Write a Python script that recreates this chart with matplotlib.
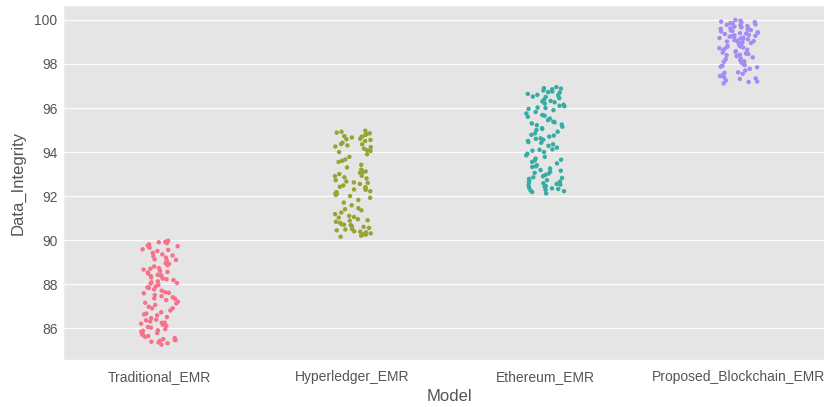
import numpy as np
import pandas as pd
import matplotlib
matplotlib.use("Agg")
import matplotlib.pyplot as plt
import seaborn as sns

models = ["Traditional_EMR", "Hyperledger_EMR", "Ethereum_EMR", "Proposed_Blockchain_EMR"]

traditional = [85.25, 85.31, 85.38, 85.42, 85.47, 85.55, 85.60, 85.64, 85.70, 85.78,
               85.83, 85.90, 85.95, 86.02, 86.10, 86.15, 86.20, 86.24, 86.30, 86.38,
               86.45, 86.50, 86.58, 86.66, 86.72, 86.80, 86.90, 86.97, 87.05, 87.12,
               87.20, 87.27, 87.33, 87.40, 87.50, 87.58, 87.63, 87.70, 87.76, 87.82,
               87.90, 87.96, 88.02, 88.08, 88.12, 88.18, 88.25, 88.30, 88.36, 88.42,
               88.48, 88.53, 88.60, 88.66, 88.72, 88.80, 88.86, 88.92, 89.00, 89.06,
               89.12, 89.20, 89.27, 89.35, 89.42, 89.50, 89.58, 89.65, 89.72, 89.80,
               89.86, 89.92, 89.97, 85.35, 85.50, 85.72, 85.88, 86.05, 86.35, 86.62,
               87.15, 87.45, 87.85, 88.05, 88.22, 88.40, 88.55, 88.70, 89.10, 89.30,
               89.55, 89.90, 86.90, 87.60, 88.95, 85.45, 86.25, 87.35, 88.35, 89.75]

hyperledger = [90.15, 90.20, 90.26, 90.30, 90.35, 90.40, 90.44, 90.50, 90.55, 90.60,
               90.63, 90.68, 90.72, 90.78, 90.83, 90.90, 90.95, 91.02, 91.10, 91.18,
               91.25, 91.35, 91.45, 91.58, 91.70, 91.82, 91.92, 92.00, 92.05, 92.12,
               92.18, 92.22, 92.30, 92.36, 92.42, 92.48, 92.55, 92.60, 92.66, 92.72,
               92.80, 92.85, 92.92, 93.00, 93.06, 93.12, 93.20, 93.30, 93.42, 93.55,
               93.66, 93.78, 93.90, 94.00, 94.08, 94.15, 94.22, 94.30, 94.36, 94.42,
               94.50, 94.55, 94.60, 94.66, 94.72, 94.78, 94.82, 94.88, 94.92, 94.97,
               90.25, 90.48, 90.70, 90.88, 91.05, 92.10, 92.40, 92.62, 93.10, 93.60,
               94.05, 94.35, 94.58, 94.85, 90.38, 92.28, 92.90, 94.25, 94.70, 91.40]

ethereum = [92.12, 92.18, 92.22, 92.28, 92.32, 92.38, 92.42, 92.48, 92.52, 92.58,
            92.62, 92.68, 92.72, 92.78, 92.85, 92.90, 92.96, 93.02, 93.10, 93.18,
            93.25, 93.32, 93.40, 93.48, 93.55, 93.62, 93.70, 93.78, 93.85, 93.92,
            94.00, 94.06, 94.12, 94.20, 94.28, 94.35, 94.42, 94.50, 94.56, 94.62,
            94.70, 94.78, 94.85, 94.92, 95.00, 95.08, 95.15, 95.22, 95.30, 95.38,
            95.45, 95.52, 95.60, 95.68, 95.75, 95.82, 95.90, 95.96, 96.02, 96.08,
            96.15, 96.20, 96.26, 96.32, 96.38, 96.45, 96.52, 96.58, 96.64, 96.70,
            96.75, 96.80, 96.85, 96.90, 96.95, 92.25, 92.45, 92.65, 92.82, 93.05,
            93.35, 93.65, 94.10, 94.45, 94.75, 95.05, 95.35, 95.65, 96.00, 96.30,
            96.60, 96.88, 92.35, 92.55, 93.15, 94.60, 95.25, 96.10, 96.50, 96.72]

proposed = [97.12, 97.18, 97.25, 97.32, 97.40, 97.48, 97.55, 97.62, 97.70, 97.78,
            97.85, 97.92, 98.00, 98.06, 98.12, 98.18, 98.25, 98.30, 98.36, 98.42,
            98.48, 98.52, 98.58, 98.62, 98.68, 98.72, 98.78, 98.82, 98.86, 98.90,
            98.95, 99.00, 99.04, 99.08, 99.12, 99.16, 99.20, 99.24, 99.28, 99.32,
            99.36, 99.40, 99.44, 99.48, 99.52, 99.56, 99.60, 99.64, 99.68, 99.72,
            99.76, 99.80, 99.84, 99.88, 99.92, 99.96, 100.00, 97.20, 97.35, 97.60,
            97.88, 98.10, 98.40, 98.65, 98.80, 98.92, 99.06, 99.18, 99.30, 99.42,
            99.54, 99.66, 99.78, 99.90, 98.55, 98.75, 99.02, 99.26, 99.50, 99.70,
            97.45, 97.95, 98.22, 98.98, 99.14, 99.38, 99.62, 99.86, 98.45, 99.22]

values = [traditional, hyperledger, ethereum, proposed]
df = pd.DataFrame({
    "Model": [m for m, v in zip(models, values) for _ in v],
    "Data_Integrity": [x for v in values for x in v],
})

plt.style.use("ggplot")
plt.rcParams["font.family"] = ["Liberation Sans", "DejaVu Sans"]
np.random.seed(3)

fig = plt.figure(figsize=(8.24, 4.07), dpi=100)
ax = fig.add_axes([63 / 824, 47 / 407, 772 / 824, 355 / 407])
sns.stripplot(data=df, x="Model", y="Data_Integrity", hue="Model",
              palette="husl", size=3.2, jitter=True, legend=False, ax=ax)

ax.set_xlim(-0.5, 3.5)
ax.set_ylim(84.55, 100.68)
ax.set_yticks([86, 88, 90, 92, 94, 96, 98, 100])
ax.xaxis.grid(False)
ax.tick_params(axis="both", labelsize=10, colors="#555555", length=0)
ax.tick_params(axis="x", pad=7)
ax.tick_params(axis="y", pad=4)
ax.set_xlabel("Model", fontsize=12, color="#555555", labelpad=4)
ax.set_ylabel("Data_Integrity", fontsize=12, color="#555555", labelpad=6)

fig.savefig("out.png", dpi=100)
